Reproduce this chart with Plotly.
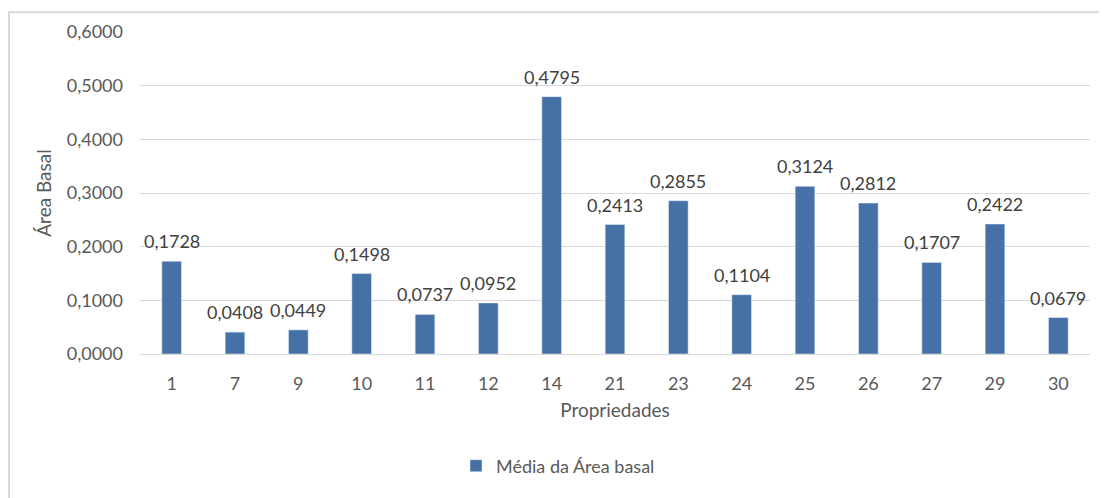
import plotly.graph_objects as go

propriedades = ["1", "7", "9", "10", "11", "12", "14", "21", "23", "24", "25", "26", "27", "29", "30"]
media_area_basal = [0.1728, 0.0408, 0.0449, 0.1498, 0.0737, 0.0952, 0.4795, 0.2413,
                    0.2855, 0.1104, 0.3124, 0.2812, 0.1707, 0.2422, 0.0679]
y_ticks = [0.0, 0.1, 0.2, 0.3, 0.4, 0.5, 0.6]

font_family = "Lato, 'Open Sans', sans-serif"
grey = "#595959"

fig = go.Figure()
fig.add_trace(go.Bar(
    x=propriedades, y=media_area_basal,
    name="Média da Área basal",
    marker=dict(color="#4571A7"),
    width=0.31,
))

# data labels sit a few px above each bar (x given as category index)
for i, val in enumerate(media_area_basal):
    fig.add_annotation(
        x=i, y=val, text=f"{val:.4f}".replace(".", ","),
        showarrow=False, yanchor="bottom", yshift=7,
        font=dict(family=font_family, size=18, color="#404040"),
    )

# page body adds an 8px offset, margins are reduced to compensate
fig.update_layout(
    width=1107, height=498,
    margin=dict(l=132, r=25, t=21, b=152),
    paper_bgcolor="white", plot_bgcolor="white",
    separators=",.",
    font=dict(family=font_family, size=18, color=grey),
    showlegend=True,
    legend=dict(orientation="h", x=0.44, xanchor="center", y=-0.348, yanchor="middle",
                font=dict(size=18, color=grey)),
    bargap=0.69,
    xaxis=dict(type="category", range=[-0.5, len(propriedades) - 0.5],
               showgrid=False, ticks="", showline=True,
               linecolor="#d9d9d9", linewidth=1, ticklabelstandoff=13,
               title=dict(text="Propriedades", standoff=11, font=dict(size=19, color=grey))),
    yaxis=dict(range=[0, 0.6], tickvals=y_ticks, tickformat=".4f", showgrid=True,
               gridcolor="#d9d9d9", zeroline=False, ticks="", ticklabelstandoff=16,
               title=dict(text="Área Basal", standoff=10, font=dict(size=19, color=grey))),
    shapes=[dict(type="rect", xref="paper", yref="paper",
                 x0=-0.1379, x1=1.2, y0=-0.8, y1=1.0615,
                 line=dict(color="#d9d9d9", width=2), layer="below")],
)

fig.write_html("out.html")
